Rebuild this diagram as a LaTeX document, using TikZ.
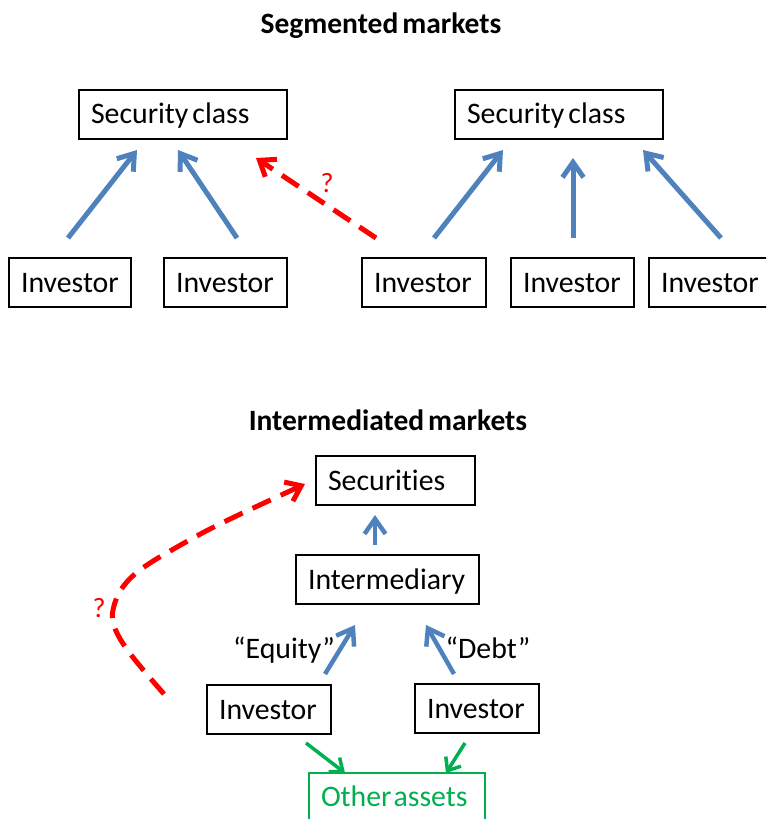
\documentclass[tikz,border=0pt]{standalone}
\usepackage{fontspec}
\setmainfont{Carlito}[Ligatures=NoCommon,WordSpace=0.6]
\usetikzlibrary{arrows.meta}
\definecolor{ablue}{HTML}{4F81BD}
\definecolor{ared}{HTML}{FF0000}
\definecolor{agreen}{HTML}{00B050}
\begin{document}
\begin{tikzpicture}[x=1pt,y=-1pt,
  box/.style={draw=black,line width=2pt,inner xsep=12pt,inner ysep=15pt,
    text height=19pt,text depth=0pt,align=left,
    font=\fontsize{29.8}{36}\selectfont},
  title/.style={font=\fontsize{29.5}{35}\selectfont\bfseries,text height=18.5pt,text depth=0pt,inner sep=0pt},
  barrow/.style={draw=ablue,line width=5pt,-{Straight Barb[length=15pt,width=21pt]}},
  rarrow/.style={draw=ared,line width=5pt,dash pattern=on 20pt off 11pt,-{Straight Barb[length=14pt,width=21pt]}},
  garrow/.style={draw=agreen,line width=3.5pt,-{Straight Barb[length=11pt,width=18pt]}},
  qmark/.style={text=ared,font=\fontsize{28}{32}\selectfont,inner sep=0pt},
  lab/.style={font=\fontsize{29.8}{36}\selectfont,text height=19pt,text depth=0pt,inner sep=0pt}]
\useasboundingbox (0,0) rectangle (766,819);
\clip (0,0) rectangle (766,819);

% ---- Segmented markets ----
\node[title] (t1) at (381,24) {Segmented markets};
\node[box,text width=184pt] (sc1) at (183,114) {\mbox{Security\hspace{4pt}class}};
\node[box,text width=184pt] (sc2) at (559,114) {\mbox{Security\hspace{4pt}class}};
\node[box,text width=98pt] (inv1) at (70,282.5) {\mbox{Investor}};
\node[box,text width=99pt] (inv2) at (225.5,282.5) {\mbox{Investor}};
\node[box,text width=100pt] (inv3) at (424,282.5) {\mbox{Investor}};
\node[box,text width=99pt] (inv4) at (572.5,282.5) {\mbox{Investor}};
\node[box,text width=98pt] (inv5) at (710,282.5) {\mbox{Investor}};

\coordinate (a1s) at (68,238);  \coordinate (a1e) at (137,150);
\coordinate (a2s) at (237,238); \coordinate (a2e) at (178,150);
\coordinate (a3s) at (434,238); \coordinate (a3e) at (503,150);
\coordinate (a4s) at (573,238); \coordinate (a4e) at (573,158);
\coordinate (a5s) at (721,238); \coordinate (a5e) at (643,150);
\coordinate (r1s) at (376,238); \coordinate (r1e) at (256,158);
\draw[barrow] (a1s) -- (a1e);
\draw[barrow] (a2s) -- (a2e);
\draw[barrow] (a3s) -- (a3e);
\draw[barrow] (a4s) -- (a4e);
\draw[barrow] (a5s) -- (a5e);
\draw[rarrow] (r1s) -- (r1e);
\node[qmark] (q1) at (327,183) {?};

% ---- Intermediated markets ----
\node[title] (t2) at (388,421) {Intermediated markets};
\node[box,text width=135pt] (sec) at (395.5,480.5) {\mbox{Securities}};
\node[box,text width=159pt] (intm) at (387.5,579.5) {\mbox{Intermediary}};
\node[box,text width=100pt] (invA) at (269,709.5) {\mbox{Investor}};
\node[box,text width=100pt] (invB) at (477,708.5) {\mbox{Investor}};
\node[box,draw=agreen,text=agreen,text width=152pt] (oth) at (397,797) {\mbox{Other\hspace{2pt}assets}};

\coordinate (b0s) at (375,545); \coordinate (b0e) at (375,515);
\coordinate (b1s) at (325,674); \coordinate (b1e) at (355,625);
\coordinate (b2s) at (454,674); \coordinate (b2e) at (426,625);
\draw[barrow,line width=4.5pt] (b0s) -- (b0e);
\draw[barrow,line width=4.5pt] (b1s) -- (b1e);
\draw[barrow,line width=4.5pt] (b2s) -- (b2e);
\node[lab] (eq) at (284,649) {``Equity''};
\node[lab] (db) at (488,649) {``Debt''};

\coordinate (g1s) at (306,743); \coordinate (g1e) at (345,773);
\coordinate (g2s) at (465,743); \coordinate (g2e) at (446,773);
\draw[garrow] (g1s) -- (g1e);
\draw[garrow] (g2s) -- (g2e);

\coordinate (r2s) at (164,694);
\coordinate (r2m) at (113,610);
\coordinate (r2e) at (305,484);
\draw[rarrow] (r2s) .. controls (130,655) and (108,630) .. (r2m)
  .. controls (118,585) and (135,572) .. (158,558) .. controls (210,528) .. (r2e);
\node[qmark] (q2) at (99,608) {?};
\end{tikzpicture}
\end{document}
